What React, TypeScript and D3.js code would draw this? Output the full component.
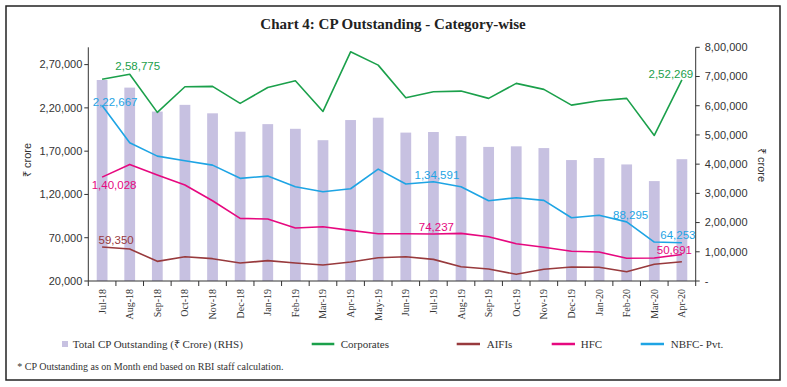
import React from 'react';
import * as d3 from 'd3';

const months = ['Jul-18','Aug-18','Sep-18','Oct-18','Nov-18','Dec-18','Jan-19','Feb-19','Mar-19','Apr-19','May-19','Jun-19','Jul-19','Aug-19','Sep-19','Oct-19','Nov-19','Dec-19','Jan-20','Feb-20','Mar-20','Apr-20'];
const totalCP = [688000,662000,580000,603000,574000,511000,537000,521000,482000,551000,559000,508000,510000,496000,459000,461000,455000,414000,421000,399000,342000,417000];
const corporates = [253000,258775,214800,244400,244800,225200,243600,251300,215900,284800,269400,231700,238600,239400,231000,248300,241400,223200,228200,231000,188200,252269];
const aifis = [59350,57000,42700,48100,45800,40800,43500,40800,38500,41900,46900,48100,45000,36500,33900,27700,33500,36200,35800,30700,39300,42300];
const hfc = [140028,154700,142400,130900,112700,92400,91600,81200,82700,78500,74600,74600,74237,75000,71200,63100,58900,54300,53500,46200,46600,50691];
const nbfc = [222667,179700,164300,158900,153900,138600,141200,128900,123100,126600,149300,132000,134591,128900,112700,116200,113200,93100,95900,88295,65000,64253];

const leftTicks = [20000,70000,120000,170000,220000,270000];
const rightTicks = [0,100000,200000,300000,400000,500000,600000,700000,800000];

const seriesNames = ['Corporates','AIFIs','HFC','NBFC- Pvt.'];
const seriesColors = ['#1ba04b','#983a3d','#e6087f','#1ea4e4'];
const seriesData = [corporates, aifis, hfc, nbfc];

// labelled points: [seriesIndex, monthIndex, dx, dy]
const labelPoints: [number, number, number, number][] = [
  [0, 1, 8, -4],
  [3, 0, 13, 0.6],
  [2, 0, 12, 12],
  [1, 0, 14, -3],
  [3, 12, 3.5, -3],
  [2, 12, 3, -3],
  [3, 19, 4, -3],
  [3, 21, -4, -4],
  [2, 21, -7.5, 0],
  [0, 21, -11, -2],
];

function indianFormat(v: number): string {
  const s = Math.round(v).toString();
  if (s.length <= 3) return s;
  const last3 = s.slice(-3);
  let rest = s.slice(0, -3);
  const parts: string[] = [];
  while (rest.length > 2) {
    parts.unshift(rest.slice(-2));
    rest = rest.slice(0, -2);
  }
  if (rest.length) parts.unshift(rest);
  return parts.join(',') + ',' + last3;
}

const W = 787, H = 387;
const plotLeft = 88.3, plotRight = 695.7, plotTop = 47.3, plotBottom = 281;

export default function App() {
  const x = d3.scaleBand<string>().domain(months).range([plotLeft, plotRight]).padding(0);
  const yL = d3.scaleLinear().domain([20000, 290000]).range([plotBottom, plotTop]);
  const yR = d3.scaleLinear().domain([0, 800000]).range([plotBottom, plotTop]);
  const bw = x.bandwidth();
  const cx = (m: string) => (x(m) as number) + bw / 2;
  const barW = bw * 0.39;

  const line = d3.line<number>().x((_, i) => cx(months[i])).y(d => yL(d));

  const sans = 'Liberation Sans, Arial, sans-serif';
  const serif = 'Liberation Serif, Times New Roman, serif';

  const legendY = 344;
  const legendItems = [
    { x1: 311.7, x2: 334.3, tx: 340.7 },
    { x1: 456.7, x2: 480, tx: 486.7 },
    { x1: 551.7, x2: 575, tx: 580.7 },
    { x1: 640.7, x2: 664, tx: 670.7 },
  ];

  return (
    <svg width={W} height={H} style={{ position: 'absolute', left: 0, top: 0, background: '#fff' }}>
      <rect x={0} y={0} width={W} height={H} fill="#fff" />
      <rect x={6} y={6} width={774} height={374} fill="none" stroke="#222" strokeWidth={1.5} />
      <text x={393} y={29} textAnchor="middle" fontFamily={serif} fontWeight="bold" fontSize={15} fill="#222">Chart 4: CP Outstanding - Category-wise</text>

      {/* bars */}
      {months.map((m, i) => (
        <rect key={m} x={cx(m) - barW / 2} y={yR(totalCP[i])} width={barW} height={plotBottom - yR(totalCP[i])} fill="#c7c1e1" />
      ))}

      {/* lines */}
      {seriesData.map((d, si) => (
        <path key={si} d={line(d) as string} fill="none" stroke={seriesColors[si]} strokeWidth={1.6} strokeLinejoin="round" />
      ))}

      {/* data labels */}
      {labelPoints.map(([si, mi, dx, dy], k) => (
        <text key={k} x={cx(months[mi]) + dx} y={yL(seriesData[si][mi]) + dy} textAnchor="middle" fontFamily={sans} fontSize={11.5} fill={seriesColors[si]}>
          {indianFormat(seriesData[si][mi])}
        </text>
      ))}

      {/* left axis */}
      <line x1={plotLeft} x2={plotLeft} y1={plotTop} y2={plotBottom} stroke="#333" strokeWidth={1} />
      {leftTicks.map(t => (
        <g key={t}>
          <line x1={plotLeft - 4} x2={plotLeft} y1={yL(t)} y2={yL(t)} stroke="#333" />
          <text x={plotLeft - 6} y={yL(t)} dy="0.35em" textAnchor="end" fontFamily={sans} fontSize={11} fill="#333">{indianFormat(t)}</text>
        </g>
      ))}
      <text transform={`translate(27,160) rotate(-90)`} textAnchor="middle" dy="0.35em" fontFamily={sans} fontSize={11} fill="#333">₹ crore</text>

      {/* right axis */}
      <line x1={plotRight} x2={plotRight} y1={plotTop} y2={plotBottom} stroke="#333" strokeWidth={1} />
      {rightTicks.map(t => (
        <g key={t}>
          <line x1={plotRight} x2={plotRight + 4} y1={yR(t)} y2={yR(t)} stroke="#333" />
          <text x={plotRight + 9} y={yR(t)} dy="0.35em" textAnchor="start" fontFamily={sans} fontSize={11} fill="#333">{t === 0 ? '-' : indianFormat(t)}</text>
        </g>
      ))}
      <text transform={`translate(762,165) rotate(90)`} textAnchor="middle" dy="0.35em" fontFamily={sans} fontSize={11} fill="#333">₹ crore</text>

      {/* x axis */}
      <line x1={plotLeft} x2={plotRight} y1={plotBottom} y2={plotBottom} stroke="#333" strokeWidth={1} />
      {months.map((m, i) => (
        <line key={'t' + m} x1={x(m) as number} x2={x(m) as number} y1={plotBottom} y2={plotBottom + 5} stroke="#333" />
      ))}
      <line x1={plotRight} x2={plotRight} y1={plotBottom} y2={plotBottom + 5} stroke="#333" />
      {months.map(m => (
        <text key={'l' + m} transform={`translate(${cx(m)},${plotBottom + 8}) rotate(-90)`} textAnchor="end" dy="0.35em" fontFamily={serif} fontSize={10} fill="#333">{m}</text>
      ))}

      {/* legend */}
      <rect x={62} y={legendY - 3} width={6} height={6} fill="#c7c1e1" />
      <text x={72.7} y={legendY} dy="0.35em" fontFamily={serif} fontSize={11} fill="#333">Total CP Outstanding  (₹ Crore) (RHS)</text>
      {legendItems.map((li, k) => (
        <g key={k}>
          <line x1={li.x1} x2={li.x2} y1={legendY} y2={legendY} stroke={seriesColors[k]} strokeWidth={2.5} />
          <text x={li.tx} y={legendY} dy="0.35em" fontFamily={serif} fontSize={11} fill="#333">{seriesNames[k]}</text>
        </g>
      ))}

      <text x={17.3} y={366.7} dy="0.35em" fontFamily={serif} fontSize={10} fill="#333">* CP Outstanding as on Month end based on RBI staff calculation.</text>
    </svg>
  );
}
